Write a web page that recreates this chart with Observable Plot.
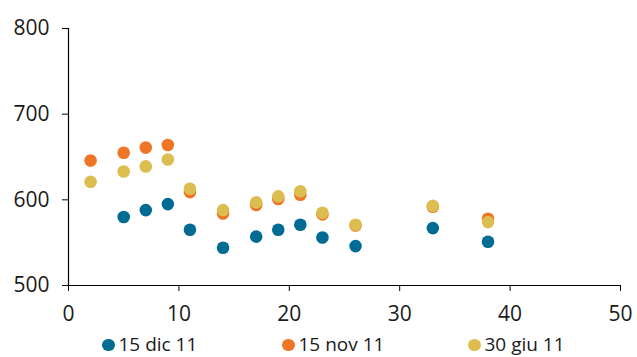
<!DOCTYPE html>
<html>
<head>
<meta charset="utf-8">
<script src="https://cdn.jsdelivr.net/npm/d3@7"></script>
<script src="https://cdn.jsdelivr.net/npm/@observablehq/plot@0.6"></script>
<style>
  html, body { margin: 0; padding: 0; background: #fff; }
  body { width: 637px; font-family: "Open Sans", sans-serif; }
  #chart svg { display: block; }
  #legend { position: relative; height: 27px; font-size: 19px; line-height: 16px; color: #1a1a1a; }
  .item { position: absolute; top: 6px; display: flex; align-items: center; white-space: nowrap; }
  .dot { width: 12.5px; height: 12.5px; border-radius: 50%; margin-right: 4px; margin-top: 2px; }
</style>
</head>
<body>
<div id="chart"></div>
<div id="legend"></div>
<script>
const seriesNames = ["15 dic 11", "15 nov 11", "30 giu 11"];
const colors = ["#006b93", "#f07526", "#dcbd4f"];

const xDic = [5, 7, 9, 11, 14, 17, 19, 21, 23, 26, 33, 38];
const yDic = [580, 588, 595, 565, 544, 557, 565, 571, 556, 546, 567, 551];

const xNov = [2, 5, 7, 9, 11, 14, 17, 19, 21, 23, 26, 33, 38];
const yNov = [646, 655, 661, 664, 609, 584, 594, 601, 606, 583, 570, 592, 578];

const xGiu = [2, 5, 7, 9, 11, 14, 17, 19, 21, 23, 26, 33, 38];
const yGiu = [621, 633, 639, 647, 613, 588, 597, 604, 610, 585, 571, 593, 574];

const xTicks = [0, 10, 20, 30, 40, 50];
const yTicks = [500, 600, 700, 800];

const data = [];
[[xDic, yDic], [xNov, yNov], [xGiu, yGiu]].forEach(([xs, ys], i) => {
  xs.forEach((x, j) => data.push({series: seriesNames[i], x, y: ys[j]}));
});

const chart = Plot.plot({
  width: 637,
  height: 330,
  marginTop: 28,
  marginBottom: 45,
  marginLeft: 68,
  marginRight: 17,
  style: {fontFamily: "Open Sans, sans-serif", fontSize: "21px", color: "#1a1a1a", background: "#fff"},
  x: {domain: [0, 50], label: null},
  y: {domain: [500, 800], label: null},
  color: {domain: seriesNames, range: colors},
  marks: [
    Plot.dot(data, {x: "x", y: "y", fill: "series", r: 6.3, stroke: "none"}),
    Plot.ruleX([0], {stroke: "#000", strokeWidth: 1.2}),
    Plot.ruleY([500], {stroke: "#000", strokeWidth: 1.2}),
    Plot.axisX({ticks: xTicks, tickSize: 6, tickPadding: 15, stroke: "#000", fill: "#1a1a1a", fontSize: 21, label: null}),
    Plot.axisY({ticks: yTicks, tickSize: 6, tickPadding: 13, stroke: "#000", fill: "#1a1a1a", fontSize: 21, label: null})
  ]
});
document.getElementById("chart").appendChild(chart);

const legend = document.getElementById("legend");
const lefts = [102, 282, 468];
seriesNames.forEach((name, i) => {
  const it = document.createElement("div");
  it.className = "item";
  it.style.left = lefts[i] + "px";
  const d = document.createElement("span");
  d.className = "dot";
  d.style.background = colors[i];
  const t = document.createElement("span");
  t.textContent = name;
  it.appendChild(d);
  it.appendChild(t);
  legend.appendChild(it);
});
</script>
</body>
</html>
